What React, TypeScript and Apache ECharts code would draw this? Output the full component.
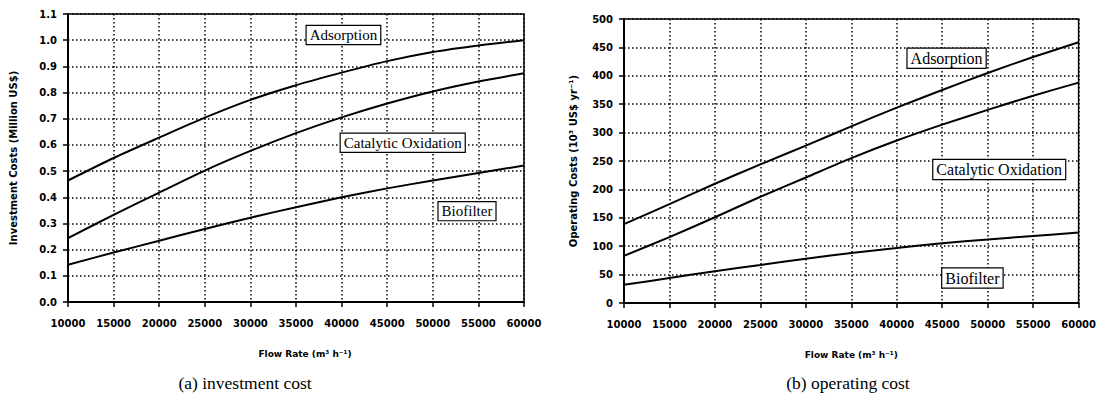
import React, { useEffect, useRef } from "react";
import * as echarts from "echarts";

const flowRates = [10000, 15000, 20000, 25000, 30000, 35000, 40000, 45000, 50000, 55000, 60000];
const xTicks = { min: 10000, max: 60000, interval: 5000 };

const invAdsorption = [0.464, 0.55, 0.628, 0.704, 0.772, 0.828, 0.876, 0.92, 0.955, 0.98, 1.0];
const invCatalytic = [0.244, 0.333, 0.418, 0.502, 0.577, 0.645, 0.705, 0.758, 0.804, 0.842, 0.874];
const invBiofilter = [0.142, 0.189, 0.234, 0.279, 0.322, 0.362, 0.4, 0.434, 0.464, 0.493, 0.521];

const opAdsorption = [139, 174, 210, 244, 277, 311, 344, 375, 405, 433, 459];
const opCatalytic = [83, 116, 151, 187, 221, 255, 286, 314, 340, 365, 388];
const opBiofilter = [32, 44, 56, 67, 78, 88, 97, 105, 112, 118, 124];

const seriesNames = ["Adsorption", "Catalytic Oxidation", "Biofilter"];

// annotation label anchors in data coordinates
const invLabelAt = [[40200, 1.02], [46700, 0.608], [53750, 0.347]];
const opLabelAt = [[45480, 431], [51270, 235], [48320, 44]];

const tickFont = { fontFamily: "DejaVu Sans", fontWeight: "bold" as const, fontSize: 10, color: "#000" };

function pairs(vals: number[]) {
  return flowRates.map((x, i) => [x, vals[i]]);
}

function makeXAxis(gridIndex: number) {
  return {
    type: "value",
    gridIndex,
    min: xTicks.min,
    max: xTicks.max,
    interval: xTicks.interval,
    name: "Flow Rate (m³ h⁻¹)",
    nameLocation: "middle",
    nameGap: 47,
    nameTextStyle: {
      fontFamily: "DejaVu Sans",
      fontWeight: "bold",
      fontSize: 9,
      color: "#000",
      padding: gridIndex === 0 ? [0, 0, 0, 18] : [0, 0, 0, 0],
    },
    axisLine: { show: true, lineStyle: { color: "#000", width: 2 } },
    axisTick: { show: true, length: 5, lineStyle: { color: "#000", width: 1.5 } },
    axisLabel: { ...tickFont, margin: 16, showMaxLabel: true, hideOverlap: false, formatter: (v: number) => String(v) },
    splitLine: { show: true, lineStyle: { color: "#000", width: 1.5, type: [1.5, 2.5] } },
  };
}

function makeYAxis(gridIndex: number, max: number, interval: number, name: string, dec: number, gap: number) {
  return {
    type: "value",
    gridIndex,
    min: 0,
    max,
    interval,
    name,
    nameLocation: "middle",
    nameGap: gap,
    nameTextStyle: { fontFamily: "DejaVu Sans", fontWeight: "bold", fontSize: 10, color: "#000" },
    axisLine: { show: true, lineStyle: { color: "#000", width: 2 } },
    axisTick: { show: true, length: 5, lineStyle: { color: "#000", width: 1.5 } },
    axisLabel: { ...tickFont, margin: 11, formatter: (v: number) => v.toFixed(dec) },
    splitLine: { show: true, lineStyle: { color: "#000", width: 1.5, type: [1.5, 2.5] } },
  };
}

function lineSeries(name: string, vals: number[], idx: number, at: number[], fontSize: number) {
  return {
    type: "line",
    name,
    xAxisIndex: idx,
    yAxisIndex: idx,
    data: pairs(vals),
    smooth: 0.25,
    showSymbol: false,
    symbol: "none",
    lineStyle: { color: "#000", width: 2 },
    z: 3,
    markPoint: {
      symbol: "rect",
      symbolSize: 1,
      itemStyle: { color: "rgba(0,0,0,0)" },
      silent: true,
      label: {
        show: true,
        position: "inside",
        fontFamily: "Liberation Serif",
        fontSize,
        color: "#000",
        backgroundColor: "#fff",
        borderColor: "#000",
        borderWidth: 1.2,
        borderType: "solid",
        padding: [2, 3, 1, 3],
      },
      data: [
        {
          coord: at,
          label: { formatter: name },
        },
      ],
    },
  };
}

export default function App() {
  const ref = useRef<HTMLDivElement>(null);
  useEffect(() => {
    if (!ref.current) return;
    const chart = echarts.init(ref.current, undefined, { renderer: "svg" });
    const captionStyle = { fontFamily: "Liberation Serif", fontWeight: "normal" as const, fontSize: 17.5, color: "#000" };
    chart.setOption({
      animation: false,
      backgroundColor: "#fff",
      title: [
        { text: "(a) investment cost", left: 245, top: 374, textAlign: "center", textStyle: captionStyle, padding: 0 },
        { text: "(b) operating cost", left: 848, top: 374, textAlign: "center", textStyle: captionStyle, padding: 0 },
      ],
      grid: [
        { left: 68, right: 575, top: 14, bottom: 98, show: true, borderColor: "#000", borderWidth: 1.5, backgroundColor: "transparent" },
        { left: 624, right: 17, top: 19, bottom: 97, show: true, borderColor: "#000", borderWidth: 1.5, backgroundColor: "transparent" },
      ],
      xAxis: [makeXAxis(0), makeXAxis(1)],
      yAxis: [
        makeYAxis(0, 1.1, 0.1, "Investment Costs (Million US$)", 1, 50),
        makeYAxis(1, 500, 50, "Operating Costs (10³ US$ yr⁻¹)", 0, 46),
      ],
      series: [
        lineSeries(seriesNames[0], invAdsorption, 0, invLabelAt[0], 15),
        lineSeries(seriesNames[1], invCatalytic, 0, invLabelAt[1], 15),
        lineSeries(seriesNames[2], invBiofilter, 0, invLabelAt[2], 15),
        lineSeries(seriesNames[0], opAdsorption, 1, opLabelAt[0], 16),
        lineSeries(seriesNames[1], opCatalytic, 1, opLabelAt[1], 16),
        lineSeries(seriesNames[2], opBiofilter, 1, opLabelAt[2], 16),
      ],
    });
    return () => chart.dispose();
  }, []);
  return <div ref={ref} style={{ position: "fixed", left: 0, top: 0, width: 1099, height: 400 }} />;
}
